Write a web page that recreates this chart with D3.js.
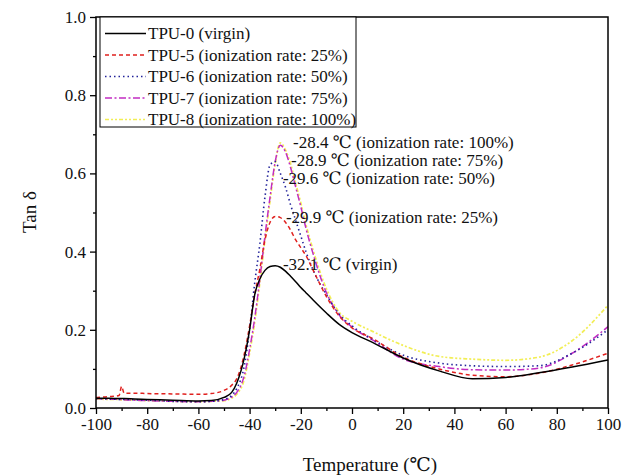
<!DOCTYPE html>
<html><head><meta charset="utf-8">
<script src="https://cdn.jsdelivr.net/npm/d3@7"></script>
<style>
body{margin:0;background:#fff;}
svg text{font-family:"Liberation Serif","Times New Roman","DejaVu Serif",serif !important;}
</style></head>
<body><svg id="c" width="622" height="475"></svg>
<script>
const temps = [-100,-95,-91,-90,-89,-85,-80,-70,-60,-55,-50,-47,-45,-42,-40,-38,-36,-34,-32,-30,-28,-26,-24,-22,-20,-18,-15,-10,-5,0,8,20,34,47,60,73,86,100];
const tpu0 = [0.025,0.025,0.024,0.024,0.024,0.023,0.022,0.020,0.018,0.019,0.027,0.040,0.064,0.130,0.200,0.290,0.330,0.352,0.362,0.364,0.360,0.350,0.337,0.323,0.308,0.295,0.275,0.243,0.214,0.193,0.168,0.128,0.095,0.075,0.078,0.090,0.105,0.123];
const tpu5 = [0.027,0.029,0.032,0.055,0.038,0.038,0.037,0.036,0.035,0.037,0.045,0.058,0.075,0.140,0.210,0.290,0.355,0.430,0.475,0.490,0.487,0.475,0.455,0.430,0.410,0.390,0.350,0.285,0.235,0.205,0.178,0.130,0.100,0.084,0.080,0.089,0.110,0.140];
const tpu6 = [0.024,0.023,0.022,0.022,0.022,0.021,0.020,0.017,0.016,0.017,0.022,0.032,0.050,0.110,0.200,0.320,0.420,0.540,0.622,0.630,0.600,0.565,0.520,0.480,0.440,0.400,0.350,0.290,0.240,0.210,0.176,0.135,0.115,0.108,0.106,0.108,0.140,0.200];
const tpu7 = [0.024,0.023,0.022,0.022,0.021,0.020,0.019,0.017,0.016,0.017,0.020,0.028,0.040,0.085,0.150,0.230,0.330,0.440,0.540,0.630,0.672,0.655,0.615,0.565,0.515,0.460,0.390,0.295,0.238,0.207,0.174,0.125,0.106,0.098,0.097,0.102,0.140,0.208];
const tpu8 = [0.023,0.022,0.022,0.021,0.021,0.020,0.019,0.017,0.016,0.017,0.019,0.025,0.035,0.075,0.140,0.220,0.320,0.430,0.530,0.625,0.678,0.660,0.625,0.575,0.525,0.470,0.400,0.305,0.245,0.222,0.196,0.160,0.132,0.125,0.122,0.130,0.172,0.263];
const seriesNames = ["TPU-0 (virgin)","TPU-5 (ionization rate: 25%)","TPU-6 (ionization rate: 50%)","TPU-7 (ionization rate: 75%)","TPU-8 (ionization rate: 100%)"];
const xTicks = [-100,-80,-60,-40,-20,0,20,40,60,80,100];
const yTicks = [0.0,0.2,0.4,0.6,0.8,1.0];
const annLabels = ["-28.4 \u2103 (ionization rate: 100%)","-28.9 \u2103 (ionization rate: 75%)","-29.6 \u2103 (ionization rate: 50%)","-29.9 \u2103 (ionization rate: 25%)","-32.1 \u2103 (virgin)"];
const annX = [-23.0,-23.8,-27.0,-25.8,-27.0];
const annY = [0.678,0.632,0.586,0.488,0.368];

const styles = [
  {color:"#000000", dash:null, w:1.5},
  {color:"#e0201e", dash:"4,3", w:1.5},
  {color:"#22229a", dash:"1.5,3", w:1.6},
  {color:"#c22cc2", dash:"7,2.5,2,2.5", w:1.5},
  {color:"#f2ee55", dash:"4,2,2,2,2,2", w:1.7}
];
const allSeries = [tpu0,tpu5,tpu6,tpu7,tpu8];
const FONT = "Liberation Serif, Times New Roman, DejaVu Serif, serif";

const svg = d3.select("#c");
const L=96,R=608,T=17,B=408;
const x = d3.scaleLinear().domain([-100,100]).range([L,R]);
const y = d3.scaleLinear().domain([0,1]).range([B,T]);

svg.append("clipPath").attr("id","pc").append("rect").attr("x",L).attr("y",T).attr("width",R-L).attr("height",B-T);
const line = d3.line().x(d=>x(d[0])).y(d=>y(d[1])).curve(d3.curveMonotoneX);
const g = svg.append("g").attr("clip-path","url(#pc)");
[4,3,2,1,0].forEach(i=>{
  const pts = temps.map((t,j)=>[t,allSeries[i][j]]);
  g.append("path").attr("d",line(pts)).attr("fill","none")
   .attr("stroke",styles[i].color).attr("stroke-width",styles[i].w)
   .attr("stroke-dasharray",styles[i].dash);
});

const xAxis = d3.axisBottom(x).tickValues(xTicks).tickSize(6).tickPadding(4).tickFormat(d=>String(d));
const xMinor = d3.axisBottom(x).tickValues(d3.range(-90,100,20)).tickSize(3).tickFormat("");
const yAxis = d3.axisLeft(y).tickValues(yTicks).tickSize(6).tickPadding(4).tickFormat(d=>d.toFixed(1));
const yMinor = d3.axisLeft(y).tickValues(d3.range(0.1,1,0.2)).tickSize(3).tickFormat("");
function styleAxis(sel){
  sel.attr("font-family",FONT);
  sel.select(".domain").remove();
  sel.selectAll("line").attr("stroke","#000").attr("stroke-width",1.3);
  sel.selectAll("text").attr("font-size",17).attr("fill","#111").attr("font-family",FONT);
}
svg.append("g").attr("transform",`translate(0,${B})`).call(xAxis).call(styleAxis);
svg.append("g").attr("transform",`translate(0,${B})`).call(xMinor).call(styleAxis);
svg.append("g").attr("transform",`translate(${L},0)`).call(yAxis).call(styleAxis);
svg.append("g").attr("transform",`translate(${L},0)`).call(yMinor).call(styleAxis);

svg.append("rect").attr("x",L).attr("y",T).attr("width",R-L).attr("height",B-T)
  .attr("fill","none").attr("stroke","#000").attr("stroke-width",1.5);

svg.append("text").attr("x",370).attr("y",464).attr("text-anchor","middle")
  .attr("dominant-baseline","central").attr("font-size",19).attr("fill","#111").attr("font-family",FONT)
  .text("Temperature (\u2103)");
svg.append("text").attr("transform",`translate(29,212) rotate(-90)`).attr("text-anchor","middle")
  .attr("dominant-baseline","central").attr("font-size",19).attr("fill","#111").attr("font-family",FONT)
  .text("Tan \u03b4");

const lg = svg.append("g");
lg.append("rect").attr("x",100).attr("y",T).attr("width",256).attr("height",110)
  .attr("fill","#fff").attr("stroke","#000").attr("stroke-width",1);
seriesNames.forEach((n,i)=>{
  const yy = 33.5 + i*21.5;
  lg.append("line").attr("x1",105).attr("x2",146).attr("y1",yy).attr("y2",yy)
    .attr("stroke",styles[i].color).attr("stroke-width",styles[i].w).attr("stroke-dasharray",styles[i].dash);
  lg.append("text").attr("x",148).attr("y",yy).attr("dominant-baseline","central")
    .attr("font-size",17).attr("fill","#111").attr("font-family",FONT).text(n);
});

annLabels.forEach((t,i)=>{
  svg.append("text").attr("x",x(annX[i])).attr("y",y(annY[i])).attr("dominant-baseline","central")
    .attr("font-size",17).attr("fill","#111").attr("font-family",FONT).text(t);
});
</script></body></html>
